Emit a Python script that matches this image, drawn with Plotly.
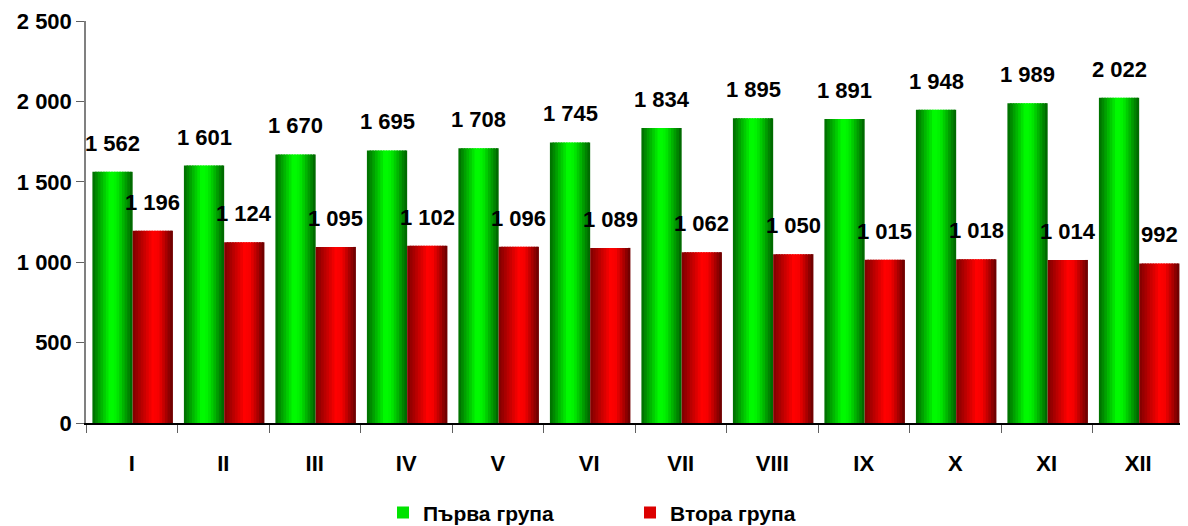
import plotly.graph_objects as go

months = ["I", "II", "III", "IV", "V", "VI", "VII", "VIII", "IX", "X", "XI", "XII"]
group1 = [1562, 1601, 1670, 1695, 1708, 1745, 1834, 1895, 1891, 1948, 1989, 2022]
group2 = [1196, 1124, 1095, 1102, 1096, 1089, 1062, 1050, 1015, 1018, 1014, 992]
series_names = ["Първа група", "Втора група"]
y_ticks = [0, 500, 1000, 1500, 2000, 2500]

FONT = "Liberation Sans Narrow, Arial Narrow, Liberation Sans, Arial"

# cylinder-like shading profiles: (position, rgb)
green_profile = [(0.0, (0, 105, 0)), (0.45, (0, 255, 0)), (0.6, (0, 240, 0)), (1.0, (0, 95, 0))]
red_profile = [(0.0, (125, 0, 0)), (0.5, (255, 0, 0)), (0.65, (245, 0, 0)), (1.0, (100, 0, 0))]


def shade(profile, t):
    for (p0, c0), (p1, c1) in zip(profile[:-1], profile[1:]):
        if p0 <= t <= p1:
            f = (t - p0) / (p1 - p0) if p1 > p0 else 0
            return "rgb(%d,%d,%d)" % tuple(round(a + (b - a) * f) for a, b in zip(c0, c1))
    return "rgb(%d,%d,%d)" % profile[-1][1]


fig = go.Figure()
N = 15
bar_w = 0.44
starts = [-0.43, 0.01]
series = [group1, group2]
profiles = [green_profile, red_profile]

for s, (vals, name, prof, st) in enumerate(zip(series, series_names, profiles, starts)):
    sw = bar_w / N
    for k in range(N):
        t = (k + 0.5) / N
        w = sw * 1.6 if k < N - 1 else sw
        fig.add_trace(go.Bar(
            x=months, y=vals, name=name,
            offset=st + k * sw, width=w,
            marker=dict(color=shade(prof, t), line=dict(width=0)),
            showlegend=(k == N // 2 - 2),
            legendgroup=name,
            hoverinfo="skip" if k != N // 2 else None,
        ))
    for i, v in enumerate(vals):
        fig.add_annotation(
            x=i + st + bar_w / 2, y=v, xref="x", yref="y",
            text="{:,}".format(v).replace(",", " "),
            showarrow=False, yanchor="bottom", yshift=14,
            font=dict(family=FONT, size=22, color="black", weight="bold"),
        )

fig.update_layout(
    width=1188, height=526,
    barmode="overlay",
    plot_bgcolor="white", paper_bgcolor="white",
    margin=dict(l=78, r=12, t=13, b=111, autoexpand=False),
    separators=", ",
    font=dict(family=FONT, size=22, color="black", weight="bold"),
    legend=dict(
        orientation="h", x=0.2705, xanchor="left",
        yref="container", y=0.04, yanchor="middle",
        entrywidth=202, entrywidthmode="pixels",
        font=dict(family=FONT, size=21, color="black", weight="bold"),
        itemsizing="constant", traceorder="normal",
    ),
    xaxis=dict(
        type="category", tickson="boundaries", ticks="outside", ticklen=8,
        tickcolor="#606060", showline=True, linecolor="black", linewidth=1.5,
        showgrid=False, ticklabelstandoff=20, automargin=False,
        tickfont=dict(family=FONT, size=22, color="black", weight="bold"),
        range=[-0.5, 11.5],
    ),
    yaxis=dict(
        range=[0, 2500], tickvals=y_ticks, tickformat=",d",
        ticks="outside", ticklen=8, tickcolor="#606060",
        showline=True, linecolor="#808080", linewidth=1.5,
        showgrid=False, zeroline=False, automargin=False,
        tickfont=dict(family=FONT, size=22, color="black", weight="bold"),
    ),
)

fig.write_html("out.html")
